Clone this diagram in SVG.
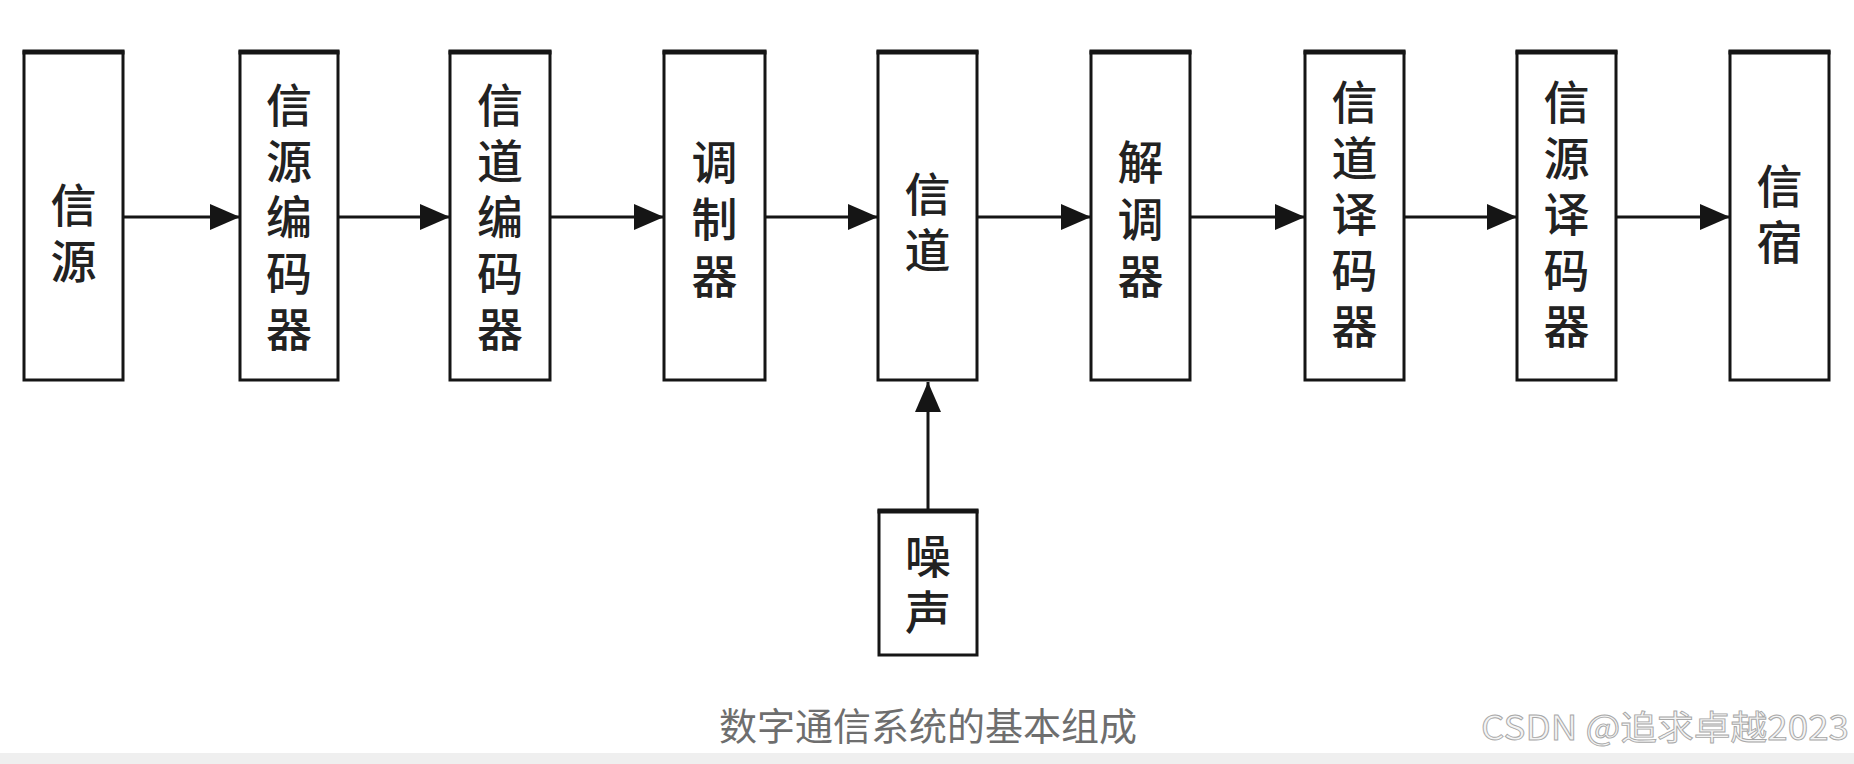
<svg xmlns="http://www.w3.org/2000/svg" width="1854" height="764" viewBox="0 0 1854 764">
<defs>
<style>
.box{fill:#fff;stroke:#151515;stroke-width:3}
.top{stroke:#151515;stroke-width:5}
.lbl{font-family:"Noto Sans CJK SC","Noto Sans CJK JP",sans-serif;font-size:46px;font-weight:500;fill:#222;text-anchor:middle}
.conn{stroke:#151515;stroke-width:3;fill:none}
.cap{font-family:"Noto Sans CJK SC",sans-serif;font-size:38px;fill:#6e6e6e;text-anchor:middle}
.wm{font-family:"Noto Sans CJK SC",sans-serif;font-size:34px;fill:#f4f4f4;stroke:#a8a8a8;stroke-width:0.9}
</style>
<marker id="ah" markerUnits="userSpaceOnUse" markerWidth="30" markerHeight="26" refX="30" refY="13" orient="auto">
<path d="M0,0 L30,13 L0,26 Z" fill="#151515"/>
</marker>
</defs>
<rect width="1854" height="764" fill="#fff"/>
<rect x="0" y="753" width="1854" height="11" fill="#efefef"/>

<g id="connectors">
<line class="conn" x1="123" y1="217" x2="240" y2="217" marker-end="url(#ah)"/>
<line class="conn" x1="338" y1="217" x2="450" y2="217" marker-end="url(#ah)"/>
<line class="conn" x1="550" y1="217" x2="664" y2="217" marker-end="url(#ah)"/>
<line class="conn" x1="765" y1="217" x2="878" y2="217" marker-end="url(#ah)"/>
<line class="conn" x1="977" y1="217" x2="1091" y2="217" marker-end="url(#ah)"/>
<line class="conn" x1="1190" y1="217" x2="1305" y2="217" marker-end="url(#ah)"/>
<line class="conn" x1="1404" y1="217" x2="1517" y2="217" marker-end="url(#ah)"/>
<line class="conn" x1="1616" y1="217" x2="1730" y2="217" marker-end="url(#ah)"/>
<line class="conn" x1="928" y1="510" x2="928" y2="382" marker-end="url(#ah)"/>
</g>

<g id="n1">
<rect class="box" x="24" y="52" width="99" height="328"/><line class="top" x1="22.5" y1="52" x2="124.5" y2="52"/>
<text class="lbl" x="73.5" y="221.5">信</text><text class="lbl" x="73.5" y="277.5">源</text>
</g>
<g id="n2">
<rect class="box" x="240" y="52" width="98" height="328"/><line class="top" x1="238.5" y1="52" x2="339.5" y2="52"/>
<text class="lbl" x="289" y="121.5">信</text><text class="lbl" x="289" y="177.5">源</text><text class="lbl" x="289" y="233.5">编</text><text class="lbl" x="289" y="289.5">码</text><text class="lbl" x="289" y="345.5">器</text>
</g>
<g id="n3">
<rect class="box" x="450" y="52" width="100" height="328"/><line class="top" x1="448.5" y1="52" x2="551.5" y2="52"/>
<text class="lbl" x="500" y="121.5">信</text><text class="lbl" x="500" y="177.5">道</text><text class="lbl" x="500" y="233.5">编</text><text class="lbl" x="500" y="289.5">码</text><text class="lbl" x="500" y="345.5">器</text>
</g>
<g id="n4">
<rect class="box" x="664" y="52" width="101" height="328"/><line class="top" x1="662.5" y1="52" x2="766.5" y2="52"/>
<text class="lbl" x="714.5" y="178.5">调</text><text class="lbl" x="714.5" y="235.5">制</text><text class="lbl" x="714.5" y="292.5">器</text>
</g>
<g id="n5">
<rect class="box" x="878" y="52" width="99" height="328"/><line class="top" x1="876.5" y1="52" x2="978.5" y2="52"/>
<text class="lbl" x="927.5" y="210.5">信</text><text class="lbl" x="927.5" y="266.5">道</text>
</g>
<g id="n6">
<rect class="box" x="1091" y="52" width="99" height="328"/><line class="top" x1="1089.5" y1="52" x2="1191.5" y2="52"/>
<text class="lbl" x="1140.5" y="178.5">解</text><text class="lbl" x="1140.5" y="235.5">调</text><text class="lbl" x="1140.5" y="292.5">器</text>
</g>
<g id="n7">
<rect class="box" x="1305" y="52" width="99" height="328"/><line class="top" x1="1303.5" y1="52" x2="1405.5" y2="52"/>
<text class="lbl" x="1354.5" y="118.5">信</text><text class="lbl" x="1354.5" y="174.5">道</text><text class="lbl" x="1354.5" y="230.5">译</text><text class="lbl" x="1354.5" y="286.5">码</text><text class="lbl" x="1354.5" y="342.5">器</text>
</g>
<g id="n8">
<rect class="box" x="1517" y="52" width="99" height="328"/><line class="top" x1="1515.5" y1="52" x2="1617.5" y2="52"/>
<text class="lbl" x="1566.5" y="118.5">信</text><text class="lbl" x="1566.5" y="174.5">源</text><text class="lbl" x="1566.5" y="230.5">译</text><text class="lbl" x="1566.5" y="286.5">码</text><text class="lbl" x="1566.5" y="342.5">器</text>
</g>
<g id="n9">
<rect class="box" x="1730" y="52" width="99" height="328"/><line class="top" x1="1728.5" y1="52" x2="1830.5" y2="52"/>
<text class="lbl" x="1779.5" y="202.5">信</text><text class="lbl" x="1779.5" y="258.5">宿</text>
</g>
<g id="noise">
<rect class="box" x="879" y="511" width="98" height="144"/><line class="top" x1="877.5" y1="511" x2="978.5" y2="511"/>
<text class="lbl" x="928" y="572.5">噪</text><text class="lbl" x="928" y="628.5">声</text>
</g>

<text class="cap" x="928" y="740">数字通信系统的基本组成</text>
<text class="wm" x="1481" y="740" textLength="368" lengthAdjust="spacingAndGlyphs">CSDN @追求卓越2023</text>
</svg>
